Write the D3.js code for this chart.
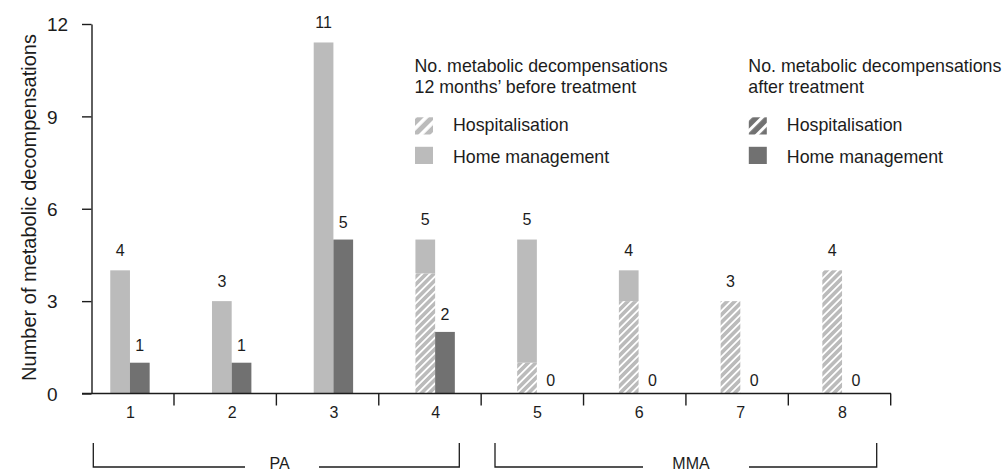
<!DOCTYPE html>
<html>
<head>
<meta charset="utf-8">
<script src="https://cdn.jsdelivr.net/npm/d3@7"></script>
<style>
  html, body { margin: 0; padding: 0; background: #fff; }
  svg { display: block; font-family: "Liberation Sans", Arial, Helvetica, sans-serif; }
</style>
</head>
<body>
<svg id="chart" width="1005" height="471"></svg>
<script>
// ---- data ----
const categories = ["1", "2", "3", "4", "5", "6", "7", "8"];
const beforeHospitalisation = [0, 0, 0, 3.9, 1, 3, 3, 4];
const beforeHomeManagement = [4, 3, 11.4, 1.1, 4, 1, 0, 0];
const afterHospitalisation = [0, 0, 0, 0, 0, 0, 0, 0];
const afterHomeManagement = [1, 1, 5, 2, 0, 0, 0, 0];
const beforeLabels = [4, 3, 11, 5, 5, 4, 3, 4];
const afterLabels = [1, 1, 5, 2, 0, 0, 0, 0];
const yTickValues = [0, 3, 6, 9, 12];
const groupNames = ["PA", "MMA"];
const yTitle = "Number of metabolic decompensations";
const legendTitles = [["No. metabolic decompensations", "12 months\u2019 before treatment"],
                      ["No. metabolic decompensations", "after treatment"]];
const legendItems = ["Hospitalisation", "Home management"];

// ---- styles ----
const LIGHT = "#bbbbbb";
const DARK = "#717171";
const INK = "#1c1c1c";

const svg = d3.select("#chart");
const defs = svg.append("defs");

function hatch(id, color, size, white) {
  const p = defs.append("pattern").attr("id", id)
    .attr("patternUnits", "userSpaceOnUse")
    .attr("width", size).attr("height", size)
    .attr("patternTransform", "rotate(45)");
  p.append("rect").attr("width", size).attr("height", size).attr("fill", color);
  p.append("rect").attr("x", 0).attr("y", 0).attr("width", white).attr("height", size).attr("fill", "#fff");
}
hatch("hatchBar", LIGHT, 5.4, 1.8);
hatch("hatchLegLight", LIGHT, 8.5, 3.6);
hatch("hatchLegDark", DARK, 8.5, 3.0);

// ---- scales ----
const y = d3.scaleLinear().domain([0, 12]).range([393.5, 24]);
const x = d3.scaleBand().domain(categories).range([79.1, 892.9]).paddingInner(0).paddingOuter(0);
const boundary = d3.scaleLinear().domain([1, 8]).range([174, 890.7]);
const barW = 19.7;
const cx = c => x(c) + x.bandwidth() / 2;

const rows = categories.map((c, i) => ({
  c, i,
  bHosp: beforeHospitalisation[i], bHome: beforeHomeManagement[i],
  aHosp: afterHospitalisation[i], aHome: afterHomeManagement[i],
  bLab: beforeLabels[i], aLab: afterLabels[i]
}));

// ---- bars ----
const g = svg.append("g");
g.selectAll(".bHosp").data(rows).join("rect")
  .attr("x", d => cx(d.c) - barW).attr("width", barW)
  .attr("y", d => y(d.bHosp)).attr("height", d => y(0) - y(d.bHosp))
  .attr("fill", "url(#hatchBar)");
g.selectAll(".bHome").data(rows).join("rect")
  .attr("x", d => cx(d.c) - barW).attr("width", barW)
  .attr("y", d => y(d.bHosp + d.bHome)).attr("height", d => y(d.bHosp) - y(d.bHosp + d.bHome))
  .attr("fill", LIGHT);
g.selectAll(".aHosp").data(rows).join("rect")
  .attr("x", d => cx(d.c)).attr("width", barW)
  .attr("y", d => y(d.aHosp)).attr("height", d => y(0) - y(d.aHosp))
  .attr("fill", "url(#hatchLegDark)");
g.selectAll(".aHome").data(rows).join("rect")
  .attr("x", d => cx(d.c)).attr("width", barW)
  .attr("y", d => y(d.aHosp + d.aHome)).attr("height", d => y(d.aHosp) - y(d.aHosp + d.aHome))
  .attr("fill", DARK);

// ---- value labels ----
g.selectAll(".bl").data(rows).join("text")
  .attr("x", d => cx(d.c) - barW / 2)
  .attr("y", d => y(d.bHosp + d.bHome) - 14.5)
  .attr("text-anchor", "middle").attr("font-size", 16).attr("fill", INK)
  .text(d => d.bLab);
g.selectAll(".al").data(rows).join("text")
  .attr("x", d => cx(d.c) + barW / 2 + (d.aLab === 0 ? 4 : 0))
  .attr("y", d => y(d.aHosp + d.aHome) - (d.aLab === 0 ? 8 : 12))
  .attr("text-anchor", "middle").attr("font-size", 16).attr("fill", INK)
  .text(d => d.aLab);

// ---- y axis ----
const yAxis = svg.append("g").attr("transform", "translate(91.5,0)")
  .call(d3.axisLeft(y).tickValues(yTickValues).tickSize(9.5).tickSizeOuter(0));
yAxis.select(".domain").attr("stroke", INK).attr("stroke-width", 1.4);
yAxis.selectAll(".tick line").attr("stroke", INK).attr("stroke-width", 1.4);
yAxis.selectAll(".tick text")
  .attr("x", 47 - 91.5).attr("dy", "0.36em").attr("text-anchor", "start")
  .attr("font-size", 19).attr("fill", INK).attr("font-family", null);

svg.append("text")
  .attr("transform", "translate(35.5,207.5) rotate(-90)")
  .attr("text-anchor", "middle").attr("font-size", 20).attr("fill", INK)
  .text(yTitle);

// ---- x axis ----
svg.append("line").attr("x1", 82).attr("x2", 891).attr("y1", y(0)).attr("y2", y(0))
  .attr("stroke", INK).attr("stroke-width", 1.4);
svg.selectAll(".xt").data(categories).join("line")
  .attr("x1", (c, i) => boundary(i + 1)).attr("x2", (c, i) => boundary(i + 1))
  .attr("y1", y(0)).attr("y2", y(0) + 12)
  .attr("stroke", INK).attr("stroke-width", 1.4);
svg.selectAll(".xl").data(categories).join("text")
  .attr("x", c => cx(c) + 0.5).attr("y", 418.3)
  .attr("text-anchor", "middle").attr("font-size", 16).attr("fill", INK)
  .text(c => c);

// ---- group brackets ----
const brackets = [
  { left: 93.3, right: 459.3, textX: 279.5, gapL: 245, gapR: 319 },
  { left: 495, right: 876.7, textX: 691, gapL: 643, gapR: 749 }
];
const bTop = 443, bBot = 467;
groupNames.forEach((name, k) => {
  const b = brackets[k];
  const path = `M${b.left},${bTop}V${bBot}H${b.gapL}M${b.gapR},${bBot}H${b.right}V${bTop}`;
  svg.append("path").attr("d", path).attr("fill", "none").attr("stroke", INK).attr("stroke-width", 1.3);
  svg.append("text").attr("x", b.textX).attr("y", 468.5).attr("text-anchor", "middle")
    .attr("font-size", 16).attr("fill", INK).text(name);
});

// ---- legends ----
const legendX = [414.5, 748.3];
const swatchFill = [["url(#hatchLegLight)", LIGHT], ["url(#hatchLegDark)", DARK]];
legendTitles.forEach((lines, k) => {
  const lg = svg.append("g");
  lines.forEach((t, j) => {
    lg.append("text").attr("x", legendX[k]).attr("y", 71.8 + j * 21.5)
      .attr("font-size", 17.8).attr("fill", INK).text(t);
  });
  legendItems.forEach((t, j) => {
    lg.append("rect").attr("x", legendX[k] + 0.5).attr("y", 117.3 + j * 29.5)
      .attr("width", 18).attr("height", 17.2).attr("fill", swatchFill[k][j]);
    lg.append("text").attr("x", legendX[k] + 38.5).attr("y", 130.8 + j * 31.8)
      .attr("font-size", 17.8).attr("fill", INK).text(t);
  });
});
</script>
</body>
</html>
